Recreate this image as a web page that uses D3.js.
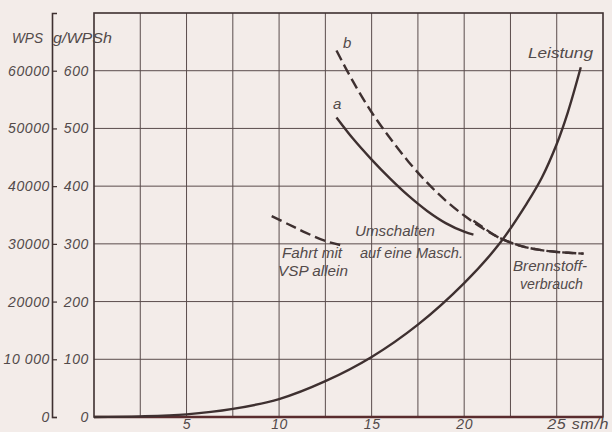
<!DOCTYPE html>
<html><head><meta charset="utf-8">
<script src="https://cdn.jsdelivr.net/npm/d3@7"></script>
<style>
html,body{margin:0;padding:0;background:#f3ece9;}
svg{display:block;}
text{font-family:"Liberation Sans",Arial,sans-serif;font-style:italic;fill:#524a4a;}
</style></head>
<body>
<script>
// ---- data ----
const speedTicks = [5, 10, 15, 20, 25];
const speedLabels = ["5", "10", "15", "20", "25 sm/h"];
const wpsTicks = [0, 10000, 20000, 30000, 40000, 50000, 60000];
const wpsLabels = ["0", "10 000", "20000", "30000", "40000", "50000", "60000"];
const gTicks = [0, 100, 200, 300, 400, 500, 600];
const xGrid = [2.5, 5, 7.5, 10, 12.5, 15, 17.5, 20, 22.5, 25];
const yGrid = [100, 200, 300, 400, 500, 600];

// Leistung (WPS) vs speed (sm/h)
const leistungV   = [0, 2.5, 5, 7.5, 10, 12.5, 15, 17.5, 20, 21.9, 23.4, 24.2, 25, 25.6, 26.3];
const leistungWPS = [0, 100, 450, 1400, 3100, 6200, 10400, 16000, 23200, 30000, 37100, 41500, 47300, 52800, 60600];
// Brennstoffverbrauch curve a (g/WPSh)
const aV = [13.1, 14, 15, 16, 17, 18, 19, 20, 20.5];
const aG = [519, 482, 446, 413, 383, 357, 336, 321, 316];
// curve b (dashed)
const bV = [13.1, 14, 15, 16, 17, 18, 19, 20, 21, 22, 23, 24, 25, 26.45];
const bG = [635, 581, 528, 483, 442, 406, 375, 349, 327, 309, 297, 290, 286, 283];
// after switching to one engine (dashed)
const cV = [20.5, 21, 21.5, 22, 23, 24, 25, 26.45];
const cG = [340, 329, 318, 309, 297, 290, 286, 283];
// Fahrt mit VSP allein (dashed)
const dV = [9.6, 10.5, 11.4, 12.5, 13.3];
const dG = [348, 334, 320, 305, 298];

// ---- chart ----
const W = 612, H = 432;
const svg = d3.select("body").append("svg").attr("width", W).attr("height", H);
const x = d3.scaleLinear().domain([0, 27.5]).range([94, 603]);
const yG = d3.scaleLinear().domain([0, 700]).range([417, 13]);
const yW = d3.scaleLinear().domain([0, 70000]).range([417, 13]);
const ink = "#3e3030";

// grid
svg.append("g").selectAll("line").data(xGrid).join("line")
  .attr("x1", d => x(d)).attr("x2", d => x(d)).attr("y1", yG(0)).attr("y2", yG(700))
  .attr("stroke", "#5a4c4c").attr("stroke-width", 1);
svg.append("g").selectAll("line").data(yGrid).join("line")
  .attr("x1", x(0)).attr("x2", x(27.5)).attr("y1", d => yG(d)).attr("y2", d => yG(d))
  .attr("stroke", "#5a4c4c").attr("stroke-width", 1);

// frame
svg.append("rect").attr("x", x(0)).attr("y", yG(700))
  .attr("width", x(27.5) - x(0)).attr("height", yG(0) - yG(700))
  .attr("fill", "none").attr("stroke", ink).attr("stroke-width", 1.6);
svg.append("line").attr("x1", x(0)).attr("x2", x(27.5)).attr("y1", yG(0)).attr("y2", yG(0))
  .attr("stroke", "#5a2c2e").attr("stroke-width", 2.6);

function cleanAxis(g) {
  g.attr("font-family", null).attr("font-size", null);
  g.selectAll("text").attr("font-size", 14).attr("fill", "#524a4a").attr("letter-spacing", "0.6px");
}

// WPS axis
const wAxis = d3.axisLeft(yW).tickValues(wpsTicks)
  .tickFormat((d, i) => wpsLabels[i]).tickSizeInner(-5).tickSizeOuter(-5).tickPadding(2);
const wg = svg.append("g").attr("transform", "translate(52,0)").call(wAxis);
wg.select(".domain").attr("stroke", ink).attr("stroke-width", 1.6);
wg.selectAll(".tick line").attr("stroke", ink).attr("stroke-width", 1.2);
cleanAxis(wg);

// g/WPSh axis
const gAxis = d3.axisLeft(yG).tickValues(gTicks).tickSize(0).tickPadding(5);
const gg = svg.append("g").attr("transform", `translate(${x(0)},0)`).call(gAxis);
gg.select(".domain").remove();
cleanAxis(gg);

// x axis
const xAxis = d3.axisBottom(x).tickValues(speedTicks)
  .tickFormat((d, i) => speedLabels[i]).tickSize(0).tickPadding(2);
const xg = svg.append("g").attr("transform", `translate(0,${yG(0)})`).call(xAxis);
xg.select(".domain").remove();
cleanAxis(xg);
xg.selectAll(".tick").filter(d => d === 25).select("text")
  .attr("text-anchor", "start").attr("x", -10).attr("textLength", 62).attr("lengthAdjust", "spacingAndGlyphs");

// curves
const line = d3.line().curve(d3.curveCatmullRom.alpha(0.5));
function draw(vs, ys, yscale, dash) {
  const pts = vs.map((v, i) => [x(v), yscale(ys[i])]);
  svg.append("path").attr("d", line(pts)).attr("fill", "none")
    .attr("stroke", ink).attr("stroke-width", 2.4)
    .attr("stroke-dasharray", dash || null).attr("stroke-linecap", "butt");
}
draw(leistungV, leistungWPS, yW);
draw(aV, aG, yG);
draw(bV, bG, yG, "11,5");
draw(cV, cG, yG, "11,5");
draw(dV, dG, yG, "11,5");

// labels: text, x, baseline y, width
const labels = [
  ["WPS", 12, 43, 31], ["g/WPSh", 53, 43, 59], ["b", 343, 48, 0], ["a", 333, 109, 0],
  ["Leistung", 528, 58, 65], ["Umschalten", 355, 236, 80], ["auf eine Masch.", 360, 258, 103],
  ["Fahrt mit", 282, 258, 60], ["VSP allein", 278, 276, 70],
  ["Brennstoff-", 513, 271, 74], ["verbrauch", 520, 289, 63]
];
const lt = svg.append("g").selectAll("text").data(labels).join("text")
  .attr("x", d => d[1]).attr("y", d => d[2])
  .attr("font-size", 15).text(d => d[0]);
lt.filter(d => d[3] > 0).attr("textLength", d => d[3]).attr("lengthAdjust", "spacingAndGlyphs");
</script>
</body></html>
